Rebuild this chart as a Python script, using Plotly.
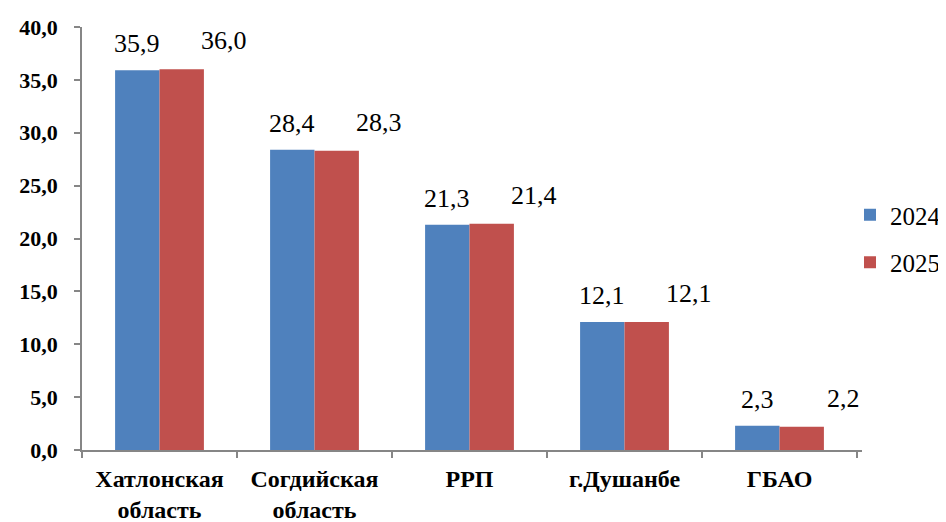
import plotly.graph_objects as go

categories = ["Хатлонская<br>область", "Согдийская<br>область", "РРП", "г.Душанбе", "ГБАО"]
years = ["2024", "2025"]
values_2024 = [35.9, 28.4, 21.3, 12.1, 2.3]
values_2025 = [36.0, 28.3, 21.4, 12.1, 2.2]
y_ticks = [0, 5, 10, 15, 20, 25, 30, 35, 40]
y_ticklabels = ["0,0", "5,0", "10,0", "15,0", "20,0", "25,0", "30,0", "35,0", "40,0"]

colors = ["#4F81BD", "#C0504D"]
FONT = "Liberation Serif"


def fmt(v):
    return f"{v:.1f}".replace(".", ",")


fig = go.Figure()
for name, vals, col in zip(years, [values_2024, values_2025], colors):
    fig.add_trace(go.Bar(
        x=categories, y=vals, name=name, marker=dict(color=col, line=dict(width=0)),
        legendgroup=name,
    ))

annotations = []
for c, v in zip(categories, values_2024):
    annotations.append(dict(x=c, y=v, text=fmt(v), showarrow=False, xref="x", yref="y",
                            xanchor="center", yanchor="bottom", xshift=-22.5, yshift=10,
                            font=dict(family=FONT, size=26, color="#000000")))
for c, v in zip(categories, values_2025):
    annotations.append(dict(x=c, y=v, text=fmt(v), showarrow=False, xref="x", yref="y",
                            xanchor="center", yanchor="bottom", xshift=64, yshift=12,
                            font=dict(family=FONT, size=26, color="#000000")))

# page has an 8px body margin: figure coords = page coords - 8
OFF = 8
W, H = 946 - OFF, 522 - OFF
L, T = 82 - OFF, 27 - OFF
R = W - (862 - OFF)
B = H - (450 - OFF)
fig.update_layout(
    width=W, height=H,
    margin=dict(l=L, r=R, t=T, b=B, autoexpand=False),
    paper_bgcolor="white", plot_bgcolor="white",
    barmode="group", bargap=0.427, bargroupgap=0,
    showlegend=True,
    legend=dict(x=(850 - 82) / (862 - 82), y=0.5, yanchor="middle", xanchor="left",
                font=dict(family=FONT, size=25, color="#000000"),
                traceorder="grouped", tracegroupgap=12, bgcolor="rgba(0,0,0,0)"),
    annotations=annotations,
)
fig.update_xaxes(
    showline=True, linecolor="#868686", linewidth=1.5,
    ticks="outside", tickson="boundaries", ticklen=6, tickcolor="#868686", tickwidth=1.5,
    tickfont=dict(family=FONT, size=24, color="#000000"),
    ticktext=[f"<b>{c}</b>" for c in categories], tickvals=categories,
    ticklabelstandoff=6,
    showgrid=False, automargin=False,
)
fig.update_yaxes(
    range=[0, 40], tickvals=y_ticks, ticktext=[f"<b>{t}</b>" for t in y_ticklabels],
    showline=True, linecolor="#868686", linewidth=1.5,
    ticks="outside", ticklen=6, tickcolor="#868686", tickwidth=1.5,
    tickfont=dict(family=FONT, size=22, color="#000000"),
    ticklabelstandoff=12,
    showgrid=False, zeroline=False, automargin=False,
)

fig.write_html("out.html")
